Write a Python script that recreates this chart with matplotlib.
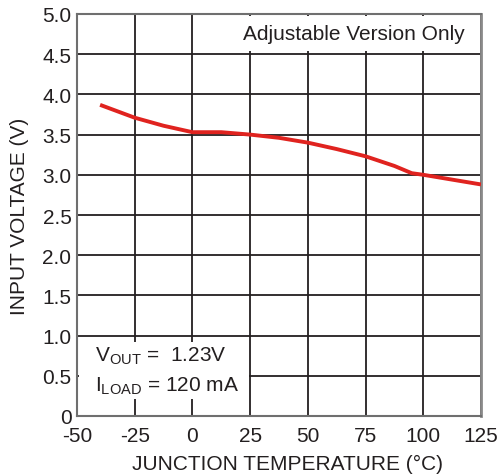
import matplotlib
matplotlib.use("Agg")
import matplotlib.pyplot as plt
from matplotlib.patches import Rectangle

plt.rcParams['font.family'] = ['Liberation Sans', 'DejaVu Sans']
plt.rcParams['mathtext.default'] = 'regular'

# Data
temperature_c = [-40, -25, -12.5, 0, 12.5, 25, 37.5, 50, 62.5, 75, 87.5, 95, 100, 112.5, 125]
input_voltage_v = [3.87, 3.71, 3.61, 3.53, 3.53, 3.50, 3.46, 3.40, 3.32, 3.23, 3.11, 3.02, 3.00, 2.94, 2.88]

x_ticks = [-50, -25, 0, 25, 50, 75, 100, 125]
y_ticks = [0, 0.5, 1.0, 1.5, 2.0, 2.5, 3.0, 3.5, 4.0, 4.5, 5.0]
y_tick_labels = ['0', '0.5', '1.0', '1.5', '2.0', '2.5', '3.0', '3.5', '4.0', '4.5', '5.0']
x_tick_labels = ['-50', '-25', '0', '25', '50', '75', '100', '125']

note_text = "Adjustable Version Only"
cond_line1 = r"V$_{OUT}$ =  1.23V"
cond_line2 = r"I$_{LOAD}$ = 120 mA"

FS = 15
ink = '#231f20'

fig = plt.figure(figsize=(5.02, 4.77), dpi=100)
ax = fig.add_axes([77/502, 60/477, 404/502, 402/477])

ax.set_xlim(-50, 125)
ax.set_ylim(0, 5.0)
ax.set_xticks(x_ticks)
ax.set_xticklabels(x_tick_labels)
ax.set_yticks(y_ticks)
ax.set_yticklabels(y_tick_labels)
ax.tick_params(axis='both', length=0, labelsize=FS, colors=ink)
ax.tick_params(axis='x', pad=7)
ax.tick_params(axis='y', pad=4)

ax.set_axisbelow(True)
ax.grid(True, color=ink, linewidth=1.3)
for s in ax.spines.values():
    s.set_color('#6f6f6f')
    s.set_linewidth(1.5)
ax.spines['right'].set_color('#8a8a8a')
ax.spines['right'].set_linewidth(2.0)

ax.plot(temperature_c, input_voltage_v, color='#e0231f', linewidth=2.8,
        solid_capstyle='butt', zorder=3)

ax.set_xlabel("JUNCTION TEMPERATURE (°C)", fontsize=FS, color=ink)
ax.xaxis.set_label_coords((288-77)/404, (417-455)/402)
ax.set_ylabel("INPUT VOLTAGE (V)", fontsize=FS, color=ink)
ax.yaxis.set_label_coords((29-77)/404, 0.5)

# white boxes masking the grid behind annotations
ax.add_patch(Rectangle(((225-77)/404, (417-52)/402), (478-225)/404, 35/402,
                       transform=ax.transAxes, facecolor='white', edgecolor='none', zorder=2))
ax.add_patch(Rectangle((0.004, (417-400)/402), (248-78)/404, 57/402,
                       transform=ax.transAxes, facecolor='white', edgecolor='none', zorder=2))

ax.text((465-77)/404, (417-35)/402, note_text, transform=ax.transAxes,
        ha='right', va='center', fontsize=FS, color=ink, zorder=4)
ax.text((95-77)/404, (417-356)/402, cond_line1, transform=ax.transAxes,
        ha='left', va='center', fontsize=FS, color=ink, zorder=4)
ax.text((95-77)/404, (417-386)/402, cond_line2, transform=ax.transAxes,
        ha='left', va='center', fontsize=FS, color=ink, zorder=4)

fig.savefig("out.png", dpi=100)
